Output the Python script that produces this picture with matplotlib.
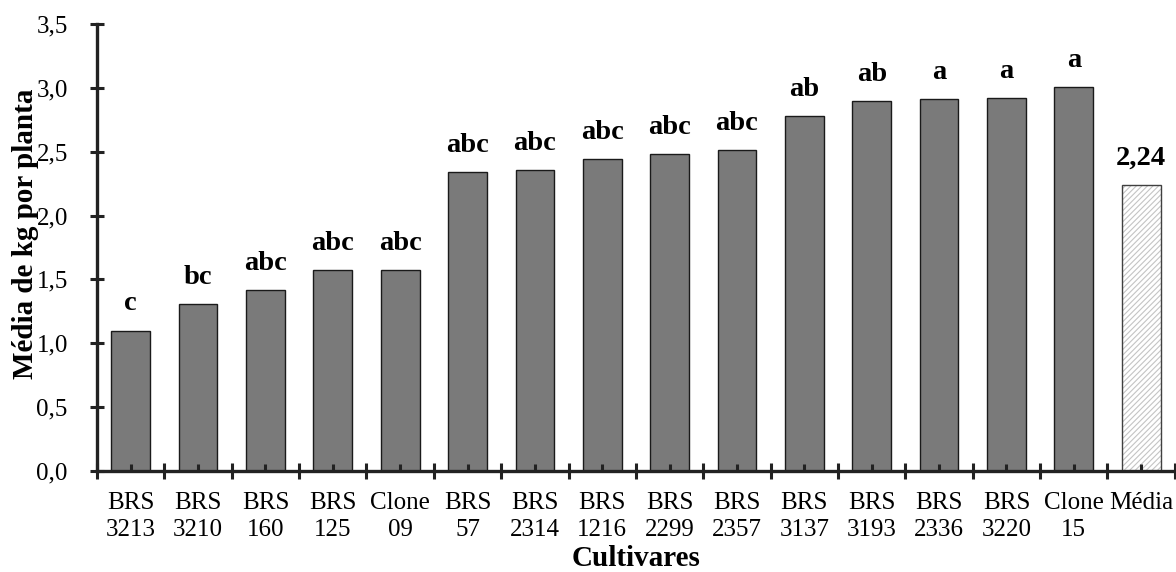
import matplotlib.pyplot as plt
import matplotlib.ticker as ticker
import numpy as np

plt.rcParams['font.family'] = ['Liberation Serif', 'DejaVu Serif']
plt.rcParams['hatch.linewidth'] = 0.8

cultivares = ['BRS\n3213', 'BRS\n3210', 'BRS\n160', 'BRS\n125', 'Clone\n09',
              'BRS\n57', 'BRS\n2314', 'BRS\n1216', 'BRS\n2299', 'BRS\n2357',
              'BRS\n3137', 'BRS\n3193', 'BRS\n2336', 'BRS\n3220', 'Clone\n15']
medias = [1.10, 1.31, 1.42, 1.57, 1.57, 2.34, 2.36, 2.44, 2.48, 2.51,
          2.78, 2.90, 2.91, 2.92, 3.01]
letras = ['c', 'bc', 'abc', 'abc', 'abc', 'abc', 'abc', 'abc', 'abc', 'abc',
          'ab', 'ab', 'a', 'a', 'a']
media_geral = 2.24

fig = plt.figure(figsize=(11.76, 5.72), dpi=100)
ax = fig.add_axes([0.0825, 0.1766, 0.9165, 0.7814])

x = np.arange(len(cultivares))
n = len(cultivares)
ax.bar(x, medias, width=0.575, color='#7a7a7a', edgecolor='#1a1a1a', linewidth=1.0)
# mean bar: light hatch first, then the dark outline on top
ax.bar(n, media_geral, width=0.575, color='white', edgecolor='#c4c4c4',
       linewidth=0, hatch='//////')
ax.bar(n, media_geral, width=0.575, fill=False, edgecolor='#404040', linewidth=1.0)

for xi, v, l in zip(x, medias, letras):
    ax.text(xi, v + 0.11, l, ha='center', va='bottom', fontsize=20.5, fontweight='bold')
ax.text(n, media_geral + 0.11, f'{media_geral:.2f}'.replace('.', ','),
        ha='center', va='bottom', fontsize=20.5, fontweight='bold')

ax.set_xlim(-0.5, n + 0.5)
ax.set_ylim(0, 3.5)
ax.yaxis.set_major_locator(ticker.MultipleLocator(0.5))
ax.yaxis.set_major_formatter(ticker.FuncFormatter(lambda v, p: f'{v:.1f}'.replace('.', ',')))

# category labels sit on minor ticks, boundaries get the major ticks
ax.set_xticks(np.arange(-0.5, n + 0.6, 1.0))
ax.set_xticklabels([])
ax.set_xticks(np.arange(n + 1), minor=True)
ax.set_xticklabels(cultivares + ['Média'], minor=True, fontsize=18, linespacing=1.3)

ax.tick_params(axis='y', which='major', direction='inout', length=10, width=2.2,
               labelsize=18, color='#222222', pad=16)
ax.tick_params(axis='x', which='major', direction='inout', length=12, width=2.2, color='#222222')
ax.tick_params(axis='x', which='minor', direction='in', length=5, width=2.2, color='#222222', pad=15)

for s in ['top', 'right']:
    ax.spines[s].set_visible(False)
for s in ['left', 'bottom']:
    ax.spines[s].set_linewidth(2.4)
    ax.spines[s].set_color('#222222')

ax.set_ylabel('Média de kg por planta', fontsize=21, fontweight='bold')
ax.yaxis.set_label_coords(-0.054, 0.53)
ax.set_xlabel('Cultivares', fontsize=21, fontweight='bold', labelpad=3)

plt.savefig('out.png')
